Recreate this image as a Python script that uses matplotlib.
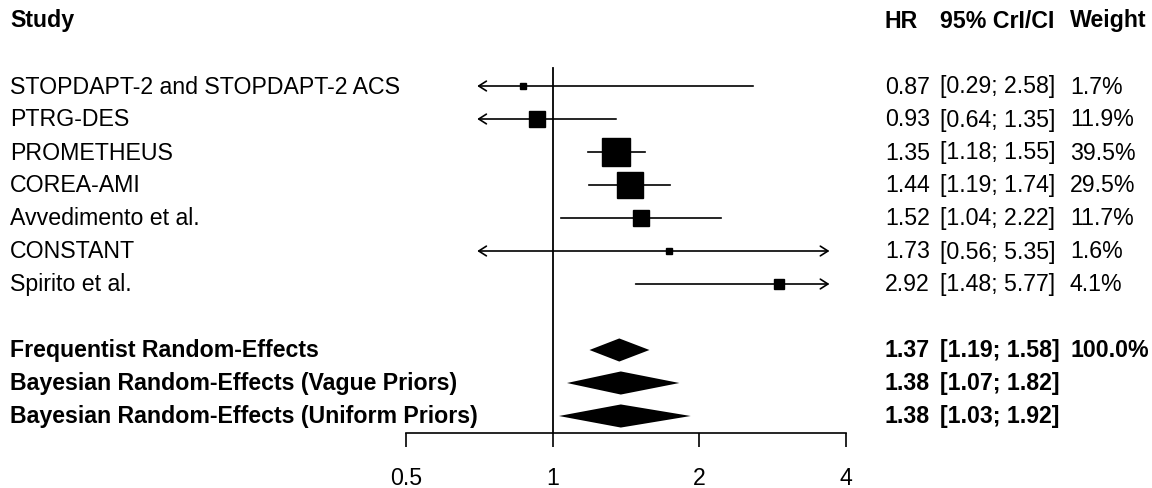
import numpy as np
import matplotlib
matplotlib.use("Agg")
import matplotlib.pyplot as plt
import matplotlib.transforms as mtransforms

# --------------------------------------------------------------------------- #
studies = ["STOPDAPT-2 and STOPDAPT-2 ACS", "PTRG-DES", "PROMETHEUS", "COREA-AMI",
           "Avvedimento et al.", "CONSTANT", "Spirito et al."]
hr = [0.87, 0.93, 1.35, 1.44, 1.52, 1.73, 2.92]
lo = [0.29, 0.64, 1.18, 1.19, 1.04, 0.56, 1.48]
hi = [2.58, 1.35, 1.55, 1.74, 2.22, 5.35, 5.77]
weight = [1.7, 11.9, 39.5, 29.5, 11.7, 1.6, 4.1]

summ_labels = ["Frequentist Random-Effects", "Bayesian Random-Effects (Vague Priors)",
               "Bayesian Random-Effects (Uniform Priors)"]
summ_hr = [1.37, 1.38, 1.38]
summ_lo = [1.19, 1.07, 1.03]
summ_hi = [1.58, 1.82, 1.92]
summ_weight = ["100.0%", "", ""]

xticks = [0.5, 1, 2, 4]
xticklabels = ["0.5", "1", "2", "4"]
clip_lo, clip_hi = 0.7, 3.7

# --------------------------------------------------------------------------- #
plt.rcParams["font.family"] = ["Liberation Sans", "DejaVu Sans"]
FS = 16.7
W, H = 1152, 489
fig = plt.figure(figsize=(W / 100, H / 100), dpi=100)
ax = fig.add_axes([406 / W, (H - 434) / H, (846 - 406) / W, 434 / H])
ax.set_xscale("log", base=2)
ax.set_xlim(0.5, 4)
row_px, first_px = 33.0, 87.0
ax.set_ylim((434 - first_px) / row_px, -first_px / row_px)

for s in ("left", "right", "top"):
    ax.spines[s].set_visible(False)
ax.spines["bottom"].set_bounds(0.5, 4)
ax.spines["bottom"].set_linewidth(1.2)
ax.set_yticks([])
ax.set_xticks(xticks)
ax.set_xticklabels(xticklabels, fontsize=FS)
ax.xaxis.set_minor_locator(matplotlib.ticker.NullLocator())
ax.tick_params(axis="x", direction="out", length=10, width=1.2, pad=14)

# reference line at HR = 1
ax.plot([1, 1], [-0.55, ax.get_ylim()[0]], color="black", lw=1.3, clip_on=False)

# study rows
ys = np.arange(len(studies))
box_max = 29 / 1.389  # points
for y, e, l, h, w in zip(ys, hr, lo, hi, weight):
    left_cut = l < clip_lo
    right_cut = h > clip_hi
    a, b = max(l, clip_lo), min(h, clip_hi)
    if left_cut and right_cut:
        style = "<->"
    elif left_cut:
        style = "<-"
    elif right_cut:
        style = "->"
    else:
        style = "-"
    if style == "-":
        ax.plot([a, b], [y, y], color="black", lw=1.2)
    else:
        ax.annotate("", xy=(b, y), xytext=(a, y),
                    arrowprops=dict(arrowstyle=style + ",head_length=0.55,head_width=0.35",
                                    lw=1.2, color="black", shrinkA=0, shrinkB=0,
                                    mutation_scale=10))
    ms = max(box_max * np.sqrt(w / max(weight)), 5.0)
    ax.plot(e, y, marker="s", ms=ms, color="black", mec="black", zorder=3)

# summary diamonds
ys_s = np.arange(len(summ_labels)) + len(studies) + 1
half = 0.35
for y, e, l, h in zip(ys_s, summ_hr, summ_lo, summ_hi):
    ax.fill([l, e, h, e], [y, y - half, y, y + half], color="black", lw=0)

# text columns
tr = mtransforms.blended_transform_factory(fig.transFigure, ax.transData)
x_lab, x_hr, x_ci, x_w = 10 / W, 885 / W, 940 / W, 1070 / W
y_head = -2
for x, t in [(x_lab, "Study"), (x_hr, "HR"), (x_ci, "95% CrI/CI"), (x_w, "Weight")]:
    ax.text(x, y_head, t, transform=tr, fontsize=FS, fontweight="bold", va="center",
            ha="left", clip_on=False)

for y, name, e, l, h, w in zip(ys, studies, hr, lo, hi, weight):
    ax.text(x_lab, y, name, transform=tr, fontsize=FS, va="center", clip_on=False)
    ax.text(x_hr, y, f"{e:.2f}", transform=tr, fontsize=FS, va="center", clip_on=False)
    ax.text(x_ci, y, f"[{l:.2f}; {h:.2f}]", transform=tr, fontsize=FS, va="center",
            clip_on=False)
    ax.text(x_w, y, f"{w:.1f}%", transform=tr, fontsize=FS, va="center", clip_on=False)

for y, name, e, l, h, w in zip(ys_s, summ_labels, summ_hr, summ_lo, summ_hi, summ_weight):
    kw = dict(transform=tr, fontsize=FS, fontweight="bold", va="center", clip_on=False)
    ax.text(x_lab, y, name, **kw)
    ax.text(x_hr, y, f"{e:.2f}", **kw)
    ax.text(x_ci, y, f"[{l:.2f}; {h:.2f}]", **kw)
    if w:
        ax.text(x_w, y, w, **kw)

fig.savefig("out.png", dpi=100)
